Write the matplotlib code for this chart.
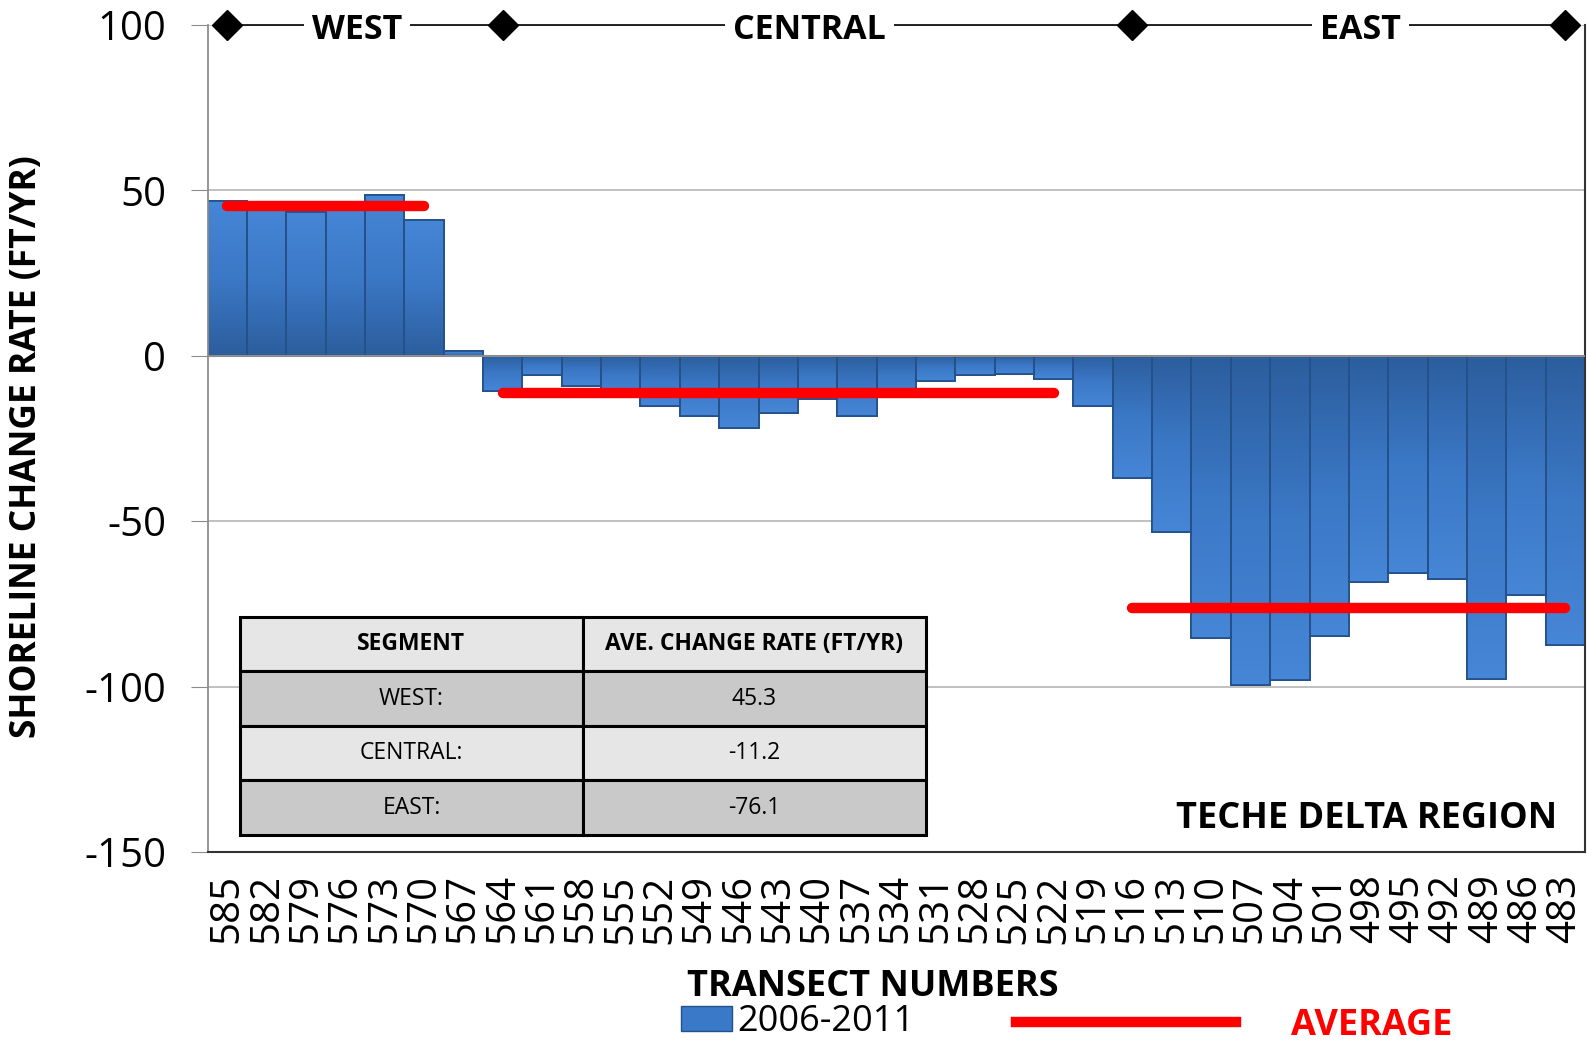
import matplotlib
matplotlib.use('Agg')
import matplotlib.pyplot as plt
from matplotlib.patches import Patch
from matplotlib.lines import Line2D
from matplotlib.colors import LinearSegmentedColormap
import numpy as np

plt.rcParams['font.family'] = ['Open Sans', 'DejaVu Sans']
plt.rcParams['axes.unicode_minus'] = False

# transect numbers (west -> east) and shoreline change rate 2006-2011 (ft/yr)
transects = [585, 582, 579, 576, 573, 570, 567, 564, 561, 558, 555, 552,
             549, 546, 543, 540, 537, 534, 531, 528, 525, 522, 519, 516,
             513, 510, 507, 504, 501, 498, 495, 492, 489, 486, 483]
rates = [46.8, 44.5, 43.5, 44.5, 48.5, 41.2, 1.5,
         -10.6, -5.8, -9.1, -12.0, -15.2, -18.2, -21.7, -17.2, -13.0,
         -18.2, -12.5, -7.6, -5.8, -5.4, -6.9, -15.2,
         -36.9, -53.2, -85.4, -99.5, -98.0, -84.6, -68.4, -65.7, -67.5,
         -97.7, -72.2, -87.4]

# segments
seg_names = ['WEST', 'CENTRAL', 'EAST']
seg_bounds = [585, 564, 516, 483]
seg_avg = [45.3, -11.2, -76.1]
avg_from = [585, 564, 516]
avg_to = [570, 522, 483]

pos = {t: i for i, t in enumerate(transects)}
x = np.arange(len(transects))

fig = plt.figure(figsize=(15.88, 10.42), dpi=100)
ax = fig.add_axes([207.6 / 1588, 1 - 852 / 1042, 1377.4 / 1588, 827 / 1042])

bars = ax.bar(x, rates, width=1.0, color='#3a78c8', edgecolor='#24518a',
              linewidth=1.3, zorder=2)

# shaded fill like the excel bevel bars: darker at the base, lighter at the end
cmap = LinearSegmentedColormap.from_list('bb', ['#2c5e9e', '#3b78c6', '#4686d6'])
grad = np.linspace(0, 1, 64).reshape(-1, 1)
for b, v in zip(bars, rates):
    x0 = b.get_x()
    w = b.get_width()
    img = grad if v < 0 else grad[::-1]
    im = ax.imshow(img, cmap=cmap, aspect='auto', origin='upper',
                   extent=[x0, x0 + w, min(0, v), max(0, v)], zorder=2.1)
    im.set_clip_path(b)
    ax.bar(b.get_x() + w / 2, v, width=w, fill=False, edgecolor='#24518a',
           linewidth=1.3, zorder=2.2)

# average lines
for a, f, t in zip(seg_avg, avg_from, avg_to):
    ax.plot([pos[f], pos[t]], [a, a], color='#ff0000', lw=7.5,
            solid_capstyle='round', zorder=4)

ax.set_xlim(-0.5, len(transects) - 0.5)
ax.set_ylim(-150, 100)
ax.set_yticks([100, 50, 0, -50, -100, -150])
ax.set_xticks(x)
ax.set_xticklabels([str(t) for t in transects], rotation=90, fontsize=29)
ax.tick_params(axis='x', length=0, pad=16)
ax.tick_params(axis='y', labelsize=29, length=12, color='#8c8c8c', pad=18)

ax.grid(axis='y', color='#b5b5b5', lw=1.2, zorder=0)
ax.axhline(0, color='#8c8c8c', lw=1.5, zorder=3)
ax.spines['left'].set_color('#8c8c8c')
ax.spines['left'].set_linewidth(1.3)
ax.spines['bottom'].set_color('#333333')
ax.spines['bottom'].set_linewidth(1.5)
ax.spines['right'].set_color('#333333')
ax.spines['right'].set_linewidth(1.5)
ax.spines['top'].set_visible(False)

ax.set_ylabel('SHORELINE CHANGE RATE (FT/YR)', fontsize=25.5, fontweight='bold')
ax.yaxis.set_label_coords(-0.118, 0.49)
ax.set_xlabel('TRANSECT NUMBERS', fontsize=26, fontweight='bold')
ax.xaxis.set_label_coords(0.483, -0.142)

# segment bar along top
bx = [pos[b] for b in seg_bounds]
ax.plot([bx[0], bx[-1]], [100, 100], color='black', lw=1.2, clip_on=False,
        zorder=5)
ax.plot(bx, [100] * len(bx), linestyle='none', marker='D', markersize=15,
        color='black', clip_on=False, zorder=6)
lab_x = [3.3, 14.8, 28.8]
for xm, name in zip(lab_x, seg_names):
    ax.annotate(name, (xm, 100), xytext=(0, -3.5), textcoords='offset points',
                ha='center', va='center', fontsize=24.5, fontweight='bold',
                zorder=7, annotation_clip=False,
                bbox=dict(facecolor='white', edgecolor='none', pad=6))

ax.text(0.98, 0.04, 'TECHE DELTA REGION', transform=ax.transAxes,
        ha='right', va='center', fontsize=26, fontweight='bold')

# summary table
cells = [[n + ':', f'{v:.1f}'] for n, v in zip(seg_names, seg_avg)]
tbl = ax.table(cellText=cells,
               colLabels=['SEGMENT', 'AVE. CHANGE RATE (FT/YR)'],
               cellLoc='center', bbox=[0.0235, 0.0206, 0.498, 0.264],
               zorder=8)
tbl.auto_set_font_size(False)
for (r, c), cell in tbl.get_celld().items():
    cell.set_linewidth(2.2)
    cell.set_edgecolor('black')
    if r == 0:
        cell.set_facecolor('#e6e6e6')
        cell.get_text().set_fontweight('bold')
        cell.get_text().set_fontsize(16.5)
    else:
        cell.set_facecolor('#c9c9c9' if r % 2 == 1 else '#e6e6e6')
        cell.get_text().set_fontsize(16.5)

# legend
leg1 = fig.legend(handles=[Patch(facecolor='#3a78c8', edgecolor='#24518a')],
                  labels=['2006-2011'], loc='center',
                  bbox_to_anchor=(798 / 1588, 1 - 1022 / 1042),
                  frameon=False, fontsize=26, handlelength=1.4,
                  handleheight=0.7, handletextpad=0.15, borderpad=0)
leg2 = fig.legend(handles=[Line2D([], [], color='#ff0000', lw=7.5)],
                  labels=['AVERAGE'], loc='center',
                  bbox_to_anchor=(1234 / 1588, 1 - 1026 / 1042),
                  frameon=False, fontsize=26, handlelength=6.1,
                  handletextpad=1.5, borderpad=0)
for t in leg2.get_texts():
    t.set_color('#ff0000')
    t.set_fontweight('bold')

fig.savefig('out.png', dpi=100)
